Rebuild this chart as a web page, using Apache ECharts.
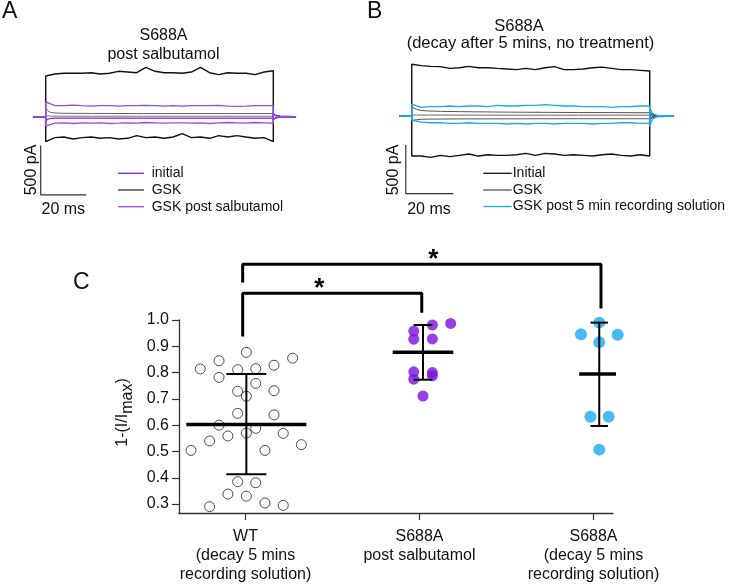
<!DOCTYPE html>
<html>
<head>
<meta charset="utf-8">
<script src="https://cdn.jsdelivr.net/npm/echarts@6/dist/echarts.min.js"></script>
<style>
  body{margin:0;background:#fff;}
  #chart{width:730px;height:584px;}
</style>
</head>
<body>
<div id="chart"></div>
<script>
// ---------- A / B : current sweeps (ms, pA) ----------
var tStep = [0,4,8,12,16,20,24,28,32,36,40,44,48,52,56,60,64,68,72,76,80,84,88,92,96,100];
var tDecay = [0,1,2,4,7,12,20,40,70,100];
var tTail = [100,101,103,110];

// A - S688A post salbutamol
var aGskUp = [412,433,440,440,440,446,433,440,460,453,446,500,460,446,446,440,453,500,446,426,446,440,440,426,453,466];
var aGskDown = [-253,-212,-206,-226,-212,-206,-219,-212,-226,-219,-192,-212,-206,-219,-206,-172,-212,-206,-219,-192,-206,-192,-206,-219,-212,-253];
var aSalbUp = [150,112,112,118,112,108,112,112,108,112,112,115,112,108,112,108,112,112,112,115,108,105,108,112,112,112];
var aSalbDown = [-95,-66,-62,-69,-62,-66,-62,-69,-66,-62,-66,-59,-62,-66,-62,-62,-66,-62,-69,-62,-59,-62,-66,-59,-62,-66];
var aInitUp = [86,60,45,38,35,34,33,32,32,32];
var aInitMid = [20,10,6,5,5,5,5,5,5,5];
var aInitDown = [-40,-25,-18,-15,-14,-14,-14,-14,-14,-14];

// B - S688A decay after 5 mins
var bBlackUp = [532,518,511,508,490,497,511,497,497,490,484,477,490,477,497,508,477,477,484,497,503,490,477,477,470,463];
var bBlackDown = [-412,-412,-425,-405,-418,-405,-391,-412,-398,-405,-405,-398,-384,-405,-384,-391,-405,-398,-405,-412,-398,-391,-405,-412,-398,-412];
var bBlueUp = [123,89,96,96,103,96,103,103,96,110,103,103,110,110,117,110,103,103,96,96,96,89,96,96,103,103];
var bBlueDown = [-41,-62,-69,-69,-75,-75,-69,-75,-75,-75,-82,-75,-82,-75,-75,-82,-75,-75,-75,-82,-75,-75,-69,-69,-75,-75];
var bGrayUp = [100,80,68,58,52,48,45,40,36,34];
var bGrayMid = [15,12,10,10,10,10,10,9,9,9];
var bGrayDown = [-50,-42,-38,-34,-32,-31,-30,-29,-28,-28];

// tail after the step
var tailUp = [-30,-12,-4,0];
var tailDown = [30,12,4,0];
var tailBlueUp = [-110,-35,-8,0];
var tailBlueDown = [90,30,6,0];

// ---------- C : 1-(I/Imax) ----------
var wtX = [1.005,0.848,1.271,0.740,0.955,1.059,1.164,0.848,1.059,0.955,1.164,1.005,0.955,1.164,0.848,1.059,1.005,0.899,1.217,0.794,1.321,0.687,1.112,0.955,1.059,0.899,1.005,1.112,1.217,0.794];
var wtY = [0.877,0.845,0.855,0.814,0.811,0.815,0.828,0.782,0.759,0.729,0.731,0.710,0.645,0.639,0.600,0.588,0.570,0.559,0.569,0.540,0.526,0.504,0.504,0.385,0.381,0.338,0.330,0.304,0.295,0.290];
var salbX = [2.074,2.179,1.967,1.967,2.074,1.967,2.074,2.074,1.967,2.020];
var salbY = [0.981,0.987,0.958,0.927,0.928,0.803,0.800,0.788,0.775,0.711];
var decayX = [3.033,2.928,3.139,3.033,2.982,3.087,3.033];
var decayY = [0.990,0.946,0.944,0.915,0.632,0.632,0.507];

var grpX = [1.005,2.020,3.033];
var grpMean = [0.603,0.877,0.795];
var grpHi = [0.795,0.981,0.990];
var grpLo = [0.413,0.773,0.597];

var catLabels = ['WT\n(decay 5 mins\nrecording solution)','S688A\npost salbutamol','S688A\n(decay 5 mins\nrecording solution)'];
var yTicks = [0.3,0.4,0.5,0.6,0.7,0.8,0.9,1.0];

// ---------- styles ----------
var FONT = 'Liberation Sans, Arial, sans-serif';
var PURPLE = '#8020e8';
var PURPLE2 = '#9a48f2';
var DOT_PURPLE = '#7a10e0';
var BLUE = '#1aaaf2';
var meanHalf = [0.345,0.174,0.115];
var capHalf = [0.115,0.054,0.05];

function sweep(t, v, tail, pre){
  var d = [[pre,0],[0,0]];
  t.forEach(function(x,i){ d.push([x,v[i]]); });
  tTail.forEach(function(x,i){ d.push([x,tail[i]]); });
  return d;
}
function trace(grid, data, color, w, z){
  return {type:'line', xAxisIndex:grid, yAxisIndex:grid, data:data, showSymbol:false, symbol:'none',
    lineStyle:{color:color, width:w}, z:z||2, silent:true};
}
function seg(grid, pts, w){
  return {type:'line', xAxisIndex:grid, yAxisIndex:grid, data:pts, symbol:'none',
    lineStyle:{color:'#000', width:w}, z:5, silent:true};
}

var series = [];
// panel A
series.push(trace(0, sweep(tStep,aGskUp,tailUp,-5.6), '#111', 1.4));
series.push(trace(0, sweep(tStep,aGskDown,tailDown,-5.6), '#111', 1.4));
series.push(trace(0, sweep(tDecay,aInitUp,tailUp,-5.6), '#666', 1, 3));
series.push(trace(0, sweep(tDecay,aInitMid,tailUp,-5.6), '#777', 1, 3));
series.push(trace(0, sweep(tDecay,aInitDown,tailDown,-5.6), PURPLE, 1.2, 4));
series.push(trace(0, sweep(tStep,aSalbUp,tailUp,-5.6), PURPLE2, 1.3, 4));
series.push(trace(0, sweep(tStep,aSalbDown,tailDown,-5.6), PURPLE2, 1.3, 4));
// scale bar A
series.push(trace(0, [[-2.2,-293],[-2.2,-793],[17.8,-793]], '#333', 1.2));
// panel B
series.push(trace(1, sweep(tStep,bBlackUp,tailUp,-5.2), '#111', 1.4));
series.push(trace(1, sweep(tStep,bBlackDown,tailDown,-5.2), '#111', 1.4));
series.push(trace(1, sweep(tDecay,bGrayUp,tailUp,-5.2), '#555', 1, 3));
series.push(trace(1, sweep(tDecay,bGrayMid,tailUp,-5.2), '#666', 1, 3));
series.push(trace(1, sweep(tDecay,bGrayDown,tailDown,-5.2), '#555', 1, 3));
series.push(trace(1, sweep(tStep,bBlueUp,tailBlueUp,-5.2), BLUE, 1.3, 4));
series.push(trace(1, sweep(tStep,bBlueDown,tailBlueDown,-5.2), BLUE, 1.3, 4));
// scale bar B
series.push(trace(1, [[-2.5,-298],[-2.5,-798],[17.5,-798]], '#333', 1.2));

// panel C points
function pts(xs, ys){ return xs.map(function(x,i){ return [x, ys[i]]; }); }
series.push({type:'scatter', xAxisIndex:2, yAxisIndex:2, data:pts(wtX,wtY), symbolSize:10, clip:false,
  itemStyle:{color:'#fff', borderColor:'#222', borderWidth:1}, z:3});
series.push({type:'scatter', xAxisIndex:2, yAxisIndex:2, data:pts(salbX,salbY), symbolSize:11, clip:false,
  itemStyle:{color:DOT_PURPLE}, z:3});
series.push({type:'scatter', xAxisIndex:2, yAxisIndex:2, data:pts(decayX,decayY), symbolSize:12, clip:false,
  itemStyle:{color:BLUE}, z:3});

// mean +- SD
grpX.forEach(function(x,i){
  series.push(seg(2, [[x-meanHalf[i],grpMean[i]],[x+meanHalf[i],grpMean[i]]], 3.5));
  series.push(seg(2, [[x,grpLo[i]],[x,grpHi[i]]], 2));
  series.push(seg(2, [[x-capHalf[i],grpHi[i]],[x+capHalf[i],grpHi[i]]], 2));
  series.push(seg(2, [[x-capHalf[i],grpLo[i]],[x+capHalf[i],grpLo[i]]], 2));
});
// significance brackets (extended grid)
series.push(seg(3, [[0.984,1.143],[0.984,1.212],[3.043,1.212],[3.043,1.044]], 3));
series.push(seg(3, [[0.984,0.937],[0.984,1.102],[2.013,1.102],[2.013,1.028]], 3));

function hiddenAxis(grid, min, max){
  return {type:'value', gridIndex:grid, min:min, max:max, show:false};
}

function txt(x, y, s, size, align, extra){
  var e = {type:'text', x:x, y:y, silent:true,
    style:{text:s, font:(size||16)+'px '+FONT, fill:'#111', textAlign:align||'center', textVerticalAlign:'middle'}};
  if (extra) for (var k in extra) e[k] = extra[k];
  return e;
}
function legLine(x1, x2, y, color){
  return {type:'line', silent:true, shape:{x1:x1, y1:y, x2:x2, y2:y}, style:{stroke:color, lineWidth:1.3}};
}

var option = {
  animation:false,
  backgroundColor:'#fff',
  textStyle:{fontFamily:FONT},
  grid:[
    {left:27.5, top:57.5, width:282.2, height:148},
    {left:392.7, top:57.7, width:295.1, height:145.8},
    {left:179, right:117, top:320, bottom:71},
    {left:179, right:117, top:240, bottom:71}
  ],
  xAxis:[
    hiddenAxis(0,-8,116),
    hiddenAxis(1,-8,116),
    {type:'value', gridIndex:2, min:0.618, max:3.112,
      axisLine:{lineStyle:{color:'#333', width:1.3}},
      axisTick:{customValues:[1,2,3], length:7, lineStyle:{color:'#333', width:1.2}},
      axisLabel:{customValues:[1,2,3], margin:14, fontSize:16, lineHeight:19, color:'#111', fontFamily:FONT,
        formatter:function(v){ return catLabels[Math.round(v)-1]; }},
      splitLine:{show:false}},
    hiddenAxis(3,0.618,3.112)
  ],
  yAxis:[
    hiddenAxis(0,-900,600),
    hiddenAxis(1,-900,600),
    {type:'value', gridIndex:2, min:0.266, max:1.0,
      axisLine:{show:true, lineStyle:{color:'#333', width:1.3}},
      axisTick:{show:true, customValues:yTicks, length:7, lineStyle:{color:'#333', width:1.2}},
      axisLabel:{customValues:yTicks, margin:10, fontSize:16, color:'#111', fontFamily:FONT,
        formatter:function(v){ return v.toFixed(1); }},
      splitLine:{show:false},
      name:'{n|1-(I/I}{s|max}{n|)}', nameLocation:'middle', nameGap:34,
      nameTextStyle:{fontFamily:FONT, color:'#111', fontSize:16, padding:[0,0,0,8],
        rich:{n:{fontSize:16, fontFamily:FONT, color:'#111', verticalAlign:'middle'},
              s:{fontSize:16, fontFamily:FONT, color:'#111', verticalAlign:'middle', padding:[10,0,0,0]}}}},
    hiddenAxis(3,0.266,1.3044)
  ],
  series:series,
  graphic:[
    txt(2, 12, 'A', 23, 'left'),
    txt(367, 12, 'B', 23, 'left'),
    txt(73, 283, 'C', 23, 'left'),
    txt(163.5, 36, 'S688A'),
    txt(163.5, 55, 'post salbutamol'),
    txt(519, 26, 'S688A', 16.5),
    txt(530.5, 43.5, '(decay after 5 mins, no treatment)', 16.5),
    // scale bar labels
    txt(63.3, 209.5, '20 ms'),
    txt(31.7, 170, '500 pA', 16, 'center', {rotation:Math.PI/2}),
    txt(429, 209.5, '20 ms'),
    txt(393.3, 170, '500 pA', 16, 'center', {rotation:Math.PI/2}),
    // legend A
    legLine(118, 144, 173.3, PURPLE),
    legLine(118, 144, 190, '#333'),
    legLine(118, 144, 206.7, PURPLE2),
    txt(151.7, 173.3, 'initial', 14, 'left'),
    txt(151.7, 190, 'GSK', 14, 'left'),
    txt(151.7, 206.7, 'GSK post salbutamol', 14, 'left'),
    // legend B
    legLine(483.3, 511.7, 173.3, '#111'),
    legLine(483.3, 511.7, 190, '#555'),
    legLine(483.3, 511.7, 206.5, BLUE),
    txt(512.7, 173.3, 'Initial', 14, 'left'),
    txt(512.7, 190, 'GSK', 14, 'left'),
    txt(512.7, 206.5, 'GSK post 5 min recording solution', 14, 'left'),
    // significance stars
    {type:'text', x:433.3, y:260, silent:true, style:{text:'*', font:'bold 26px '+FONT, fill:'#000', textAlign:'center', textVerticalAlign:'middle'}},
    {type:'text', x:319.3, y:288.5, silent:true, style:{text:'*', font:'bold 26px '+FONT, fill:'#000', textAlign:'center', textVerticalAlign:'middle'}}
  ]
};

var myChart = echarts.init(document.getElementById('chart'));
myChart.setOption(option);
</script>
</body>
</html>
